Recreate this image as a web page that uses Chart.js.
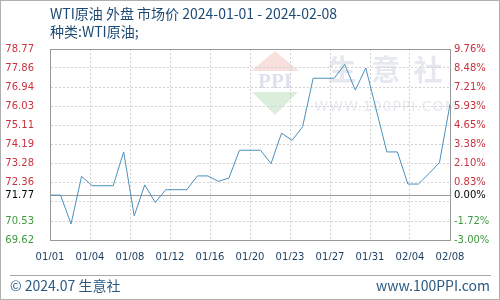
<!DOCTYPE html>
<html lang="zh-CN">
<head>
  <meta charset="UTF-8">
  <title>WTI原油 外盘 市场价</title>
  <style>
    html, body { margin: 0; padding: 0; background: #fff; }
    #chart { display: block; }
  </style>
</head>
<body>
  <canvas id="chart" width="500" height="300"></canvas>

  <script src="https://cdn.jsdelivr.net/npm/chart.js"></script>
  <script>
    // Data
    const dates = [
      '01/01', '01/02', '01/03', '01/04', '01/05', '01/06', '01/07', '01/08', '01/09', '01/10',
      '01/11', '01/12', '01/13', '01/14', '01/15', '01/16', '01/17', '01/18', '01/19', '01/20',
      '01/21', '01/22', '01/23', '01/24', '01/25', '01/26', '01/27', '01/28', '01/29', '01/30',
      '01/31', '02/01', '02/02', '02/03', '02/04', '02/05', '02/06', '02/07', '02/08'
    ];
    const prices = [
      71.77, 71.77, 70.39, 72.67, 72.22, 72.22, 72.22, 73.84, 70.78, 72.26,
      71.42, 72.03, 72.03, 72.03, 72.69, 72.69, 72.43, 72.59, 73.92, 73.92,
      73.92, 73.28, 74.74, 74.39, 75.05, 77.37, 77.37, 77.37, 78.03, 76.80,
      77.86, 75.85, 73.84, 73.84, 72.30, 72.30, 72.80, 73.33, 76.12
    ];
    const basePrice = 71.77;
    const yTickValues = [69.62, 70.53, 71.45, 72.36, 73.28, 74.19, 75.11, 76.03, 76.94, 77.86, 78.77];
    const yTickLabels = ['69.62', '70.53', '', '72.36', '73.28', '74.19', '75.11', '76.03', '76.94', '77.86', '78.77'];
    const pctTickLabels = ['-3.00%', '-1.72%', '', '0.83%', '2.10%', '3.38%', '4.65%', '5.93%', '7.21%', '8.48%', '9.76%'];
    const xTickLabels = ['01/01', '01/04', '01/08', '01/12', '01/16', '01/20', '01/23', '01/27', '01/31', '02/04', '02/08'];

    const RED = '#c8323f';
    const GREEN = '#3f9a3f';
    const tickFont = { family: 'DejaVu Sans', size: 10 };

    function tickColor(ctx) {
      const v = ctx.tick.value;
      if (v === basePrice) return '#000';
      return v > basePrice ? RED : GREEN;
    }

    function setYTicks(scale) {
      scale.ticks = yTickValues.concat([basePrice])
        .sort((a, b) => a - b)
        .map(v => ({ value: v }));
    }

    const frame = {
      id: 'frame',
      beforeDraw(chart) {
        const c = chart.ctx;
        c.save();
        c.fillStyle = '#fff';
        c.fillRect(0, 0, chart.width, chart.height);

        // faint watermark
        c.globalAlpha = 0.35;
        c.fillStyle = '#eba99c';
        c.beginPath();
        c.moveTo(275, 51); c.lineTo(299, 71); c.lineTo(251, 71); c.closePath();
        c.fill();
        c.fillStyle = '#98a8cc';
        c.font = 'bold 21px "Liberation Serif"';
        c.textAlign = 'center';
        c.textBaseline = 'middle';
        c.fillText('PPI', 275, 83);
        c.fillStyle = '#98cc98';
        c.beginPath();
        c.moveTo(252, 92); c.lineTo(298, 92); c.lineTo(275, 115); c.closePath();
        c.fill();
        c.globalAlpha = 0.3;
        c.fillStyle = '#a8b2c6';
        c.font = 'bold 29px "Noto Sans CJK SC"';
        c.fillText('生', 342, 70);
        c.fillText('意', 386, 70);
        c.fillText('社', 428, 70);
        c.font = '14px "DejaVu Sans"';
        c.letterSpacing = '1px';
        c.fillText('WWW.100PPI.COM', 386, 107);
        c.restore();
      },
      afterDraw(chart) {
        const c = chart.ctx;
        const a = chart.chartArea;
        c.save();
        c.strokeStyle = '#999';
        c.lineWidth = 1;
        c.strokeRect(Math.round(a.left) + 0.5, Math.round(a.top) + 0.5,
          Math.round(a.right - a.left), Math.round(a.bottom - a.top));

        // outer frame
        c.strokeStyle = '#b0b0b0';
        c.strokeRect(0.5, 0.5, chart.width - 1, chart.height - 1);

        // title
        c.fillStyle = '#1d4a74';
        c.textBaseline = 'middle';
        c.textAlign = 'left';
        c.font = '14px "Noto Sans CJK SC"';
        c.fillText('WTI原油 外盘 市场价 2024-01-01 - 2024-02-08', 50, 14);
        c.fillText('种类:WTI原油;', 50, 32);

        // footer
        c.strokeStyle = '#a8a8a8';
        c.beginPath();
        c.moveTo(10, 275.5); c.lineTo(491, 275.5);
        c.stroke();
        c.fillStyle = '#2b5a82';
        c.font = '14px "Noto Sans CJK SC"';
        c.fillText('© 2024.07 生意社', 10, 286);
        c.textAlign = 'right';
        c.fillText('www.100PPI.com', 490, 286);
        c.restore();
      }
    };

    new Chart(document.getElementById('chart'), {
      type: 'line',
      data: {
        datasets: [{
          data: dates.map((d, i) => ({ x: i, y: prices[i] })),
          borderColor: '#4a90bd',
          borderWidth: 1,
          pointRadius: 0,
          tension: 0,
          fill: false,
          yAxisID: 'y'
        }]
      },
      options: {
        responsive: false,
        devicePixelRatio: 1,
        animation: false,
        layout: { padding: { top: 49, bottom: 40, left: 0, right: 0 } },
        plugins: {
          legend: { display: false },
          tooltip: { enabled: false },
          title: { display: false }
        },
        scales: {
          x: {
            type: 'linear',
            min: 0,
            max: dates.length - 1,
            afterBuildTicks: scale => {
              const step = (dates.length - 1) / (xTickLabels.length - 1);
              scale.ticks = xTickLabels.map((l, i) => ({ value: i * step }));
            },
            afterFit: scale => { scale.height = 20; },
            ticks: {
              autoSkip: false,
              maxRotation: 0,
              padding: 11,
              font: tickFont,
              color: '#1b3d5f',
              callback: (v, i) => xTickLabels[i]
            },
            grid: { color: '#d2d2d2', drawTicks: false },
            border: { display: true, color: '#999', dash: [2, 2] }
          },
          y: {
            position: 'left',
            min: yTickValues[0],
            max: yTickValues[yTickValues.length - 1],
            afterBuildTicks: setYTicks,
            afterFit: scale => { scale.width = 50; },
            ticks: {
              autoSkip: false,
              padding: 16,
              font: tickFont,
              color: tickColor,
              callback: v => v === basePrice ? basePrice.toFixed(2) : yTickLabels[yTickValues.indexOf(v)]
            },
            grid: {
              drawTicks: false,
              color: ctx => ctx.tick && ctx.tick.value === basePrice ? '#999' : '#d2d2d2'
            },
            border: {
              display: true,
              color: '#999',
              dash: ctx => ctx.tick && ctx.tick.value === basePrice ? [] : [2, 2]
            }
          },
          y1: {
            position: 'right',
            min: yTickValues[0],
            max: yTickValues[yTickValues.length - 1],
            afterBuildTicks: setYTicks,
            afterFit: scale => { scale.width = 50; },
            ticks: {
              autoSkip: false,
              padding: 4,
              font: tickFont,
              color: tickColor,
              callback: v => v === basePrice ? '0.00%' : pctTickLabels[yTickValues.indexOf(v)]
            },
            grid: { display: false, drawTicks: false },
            border: { display: true, color: '#999' }
          }
        }
      },
      plugins: [frame]
    });
  </script>
</body>
</html>
